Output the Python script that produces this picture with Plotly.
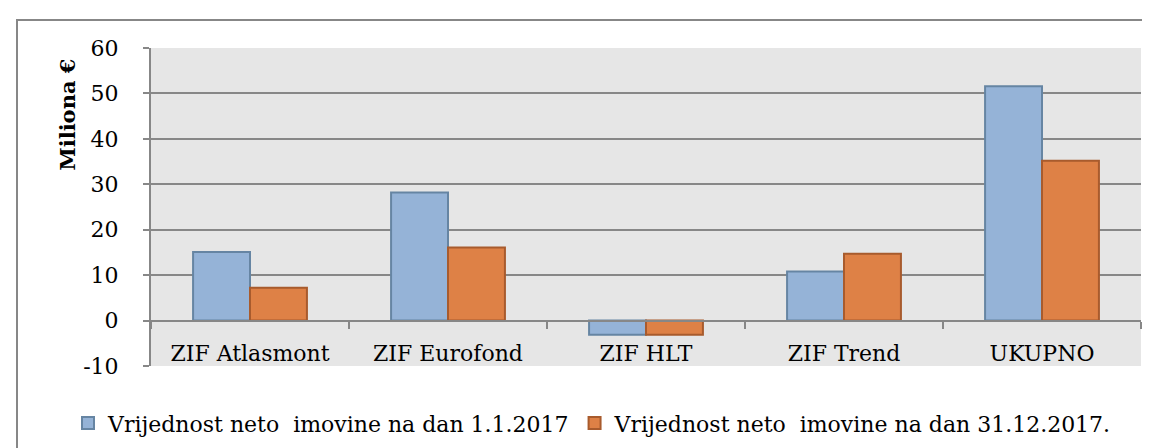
import plotly.graph_objects as go

categories = ["ZIF Atlasmont", "ZIF Eurofond", "ZIF HLT", "ZIF Trend", "UKUPNO"]
series_names = ["Vrijednost neto\u00a0 imovine na dan 1.1.2017",
                "Vrijednost neto\u00a0 imovine na dan 31.12.2017."]
values_start = [15.1, 28.2, -3.1, 10.8, 51.6]
values_end = [7.2, 16.1, -3.1, 14.7, 35.2]
y_ticks = [-10, 0, 10, 20, 30, 40, 50, 60]
y_ticktext = ["-10", "0", "10", "20", "30", "40", "50", "60"]
y_title = "Miliona €"

FONT = "DejaVu Serif"
GRID = "#878787"

fig = go.Figure()
fig.add_trace(go.Bar(x=categories, y=values_start, name=series_names[0],
                     marker=dict(color="#95B3D7", line=dict(color="#6685A3", width=2))))
fig.add_trace(go.Bar(x=categories, y=values_end, name=series_names[1],
                     marker=dict(color="#DE8146", line=dict(color="#A85B2D", width=2))))

W, H = 1150, 448
L, R, T, B = 143, 17, 39.5, 86
pw, ph = W - L - R, H - T - B

def px(xp):
    return (xp - L) / pw

def py(yp):
    return (H - B - yp) / ph

fig.update_layout(
    width=W, height=H,
    margin=dict(l=L, r=R, t=T, b=B, pad=0),
    paper_bgcolor="white", plot_bgcolor="#E6E6E6",
    barmode="group", bargap=0.425, bargroupgap=0,
    font=dict(family=FONT, size=22, color="black"),
    showlegend=True,
    legend=dict(orientation="h", x=px(60), xanchor="left", y=py(420), yanchor="middle",
                font=dict(family=FONT, size=22, color="black"),
                bgcolor="rgba(0,0,0,0)", itemwidth=30, tracegroupgap=0),
    xaxis=dict(type="category", anchor="free", position=10 / 70,
               showline=True, linecolor=GRID, linewidth=2,
               ticks="outside", tickson="boundaries", ticklen=7, tickwidth=2, tickcolor=GRID,
               showgrid=False, ticklabelstandoff=13,
               tickfont=dict(family=FONT, size=22, color="black")),
    yaxis=dict(range=[-10, 60], tickvals=y_ticks, ticktext=y_ticktext,
               showline=True, linecolor=GRID, linewidth=2,
               ticks="outside", ticklen=6, tickwidth=2, tickcolor=GRID,
               showgrid=True, gridcolor=GRID, gridwidth=2, zeroline=False,
               ticklabelstandoff=20,
               tickfont=dict(family=FONT, size=22, color="black")),
    annotations=[dict(text="<b>" + y_title + "</b>", xref="paper", yref="paper",
                      x=px(60), y=py(107), textangle=-90, showarrow=False,
                      font=dict(family=FONT, size=21, color="black"),
                      xanchor="center", yanchor="middle")],
    shapes=[dict(type="rect", xref="paper", yref="paper", layer="below",
                 x0=px(9), x1=px(1160), y0=py(460), y1=py(11),
                 line=dict(color=GRID, width=2), fillcolor="rgba(0,0,0,0)")],
)

fig.write_html("out.html")
